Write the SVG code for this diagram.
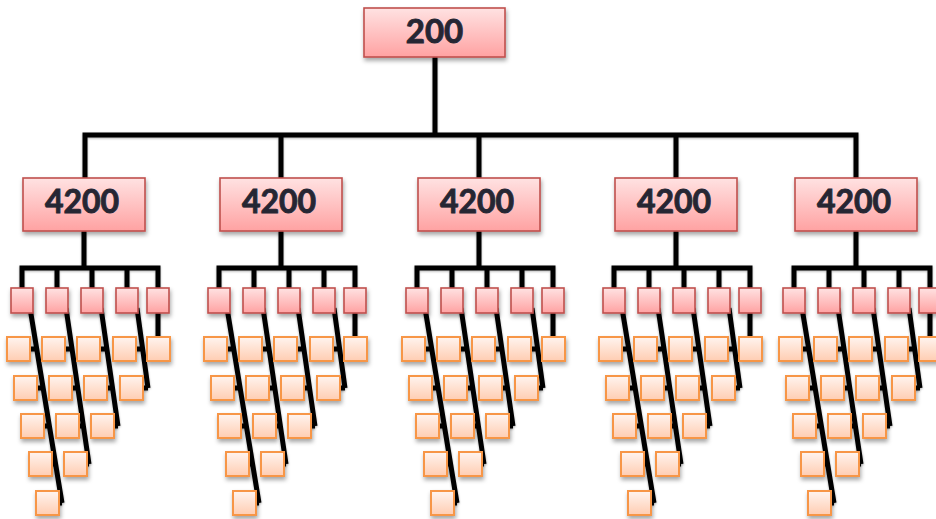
<svg xmlns="http://www.w3.org/2000/svg" width="936" height="519" viewBox="0 0 936 519">
<defs>
<linearGradient id="gRed" x1="0" y1="0" x2="0" y2="1">
<stop offset="0" stop-color="#ffe2e2"/>
<stop offset="1" stop-color="#ffa2a2"/>
</linearGradient>
<linearGradient id="gOr" x1="0" y1="0" x2="0" y2="1">
<stop offset="0" stop-color="#fff4ef"/>
<stop offset="1" stop-color="#ffcdb2"/>
</linearGradient>
<filter id="sh" x="-30%" y="-30%" width="160%" height="170%">
<feDropShadow dx="1" dy="3" stdDeviation="2" flood-color="#000" flood-opacity="0.35"/>
</filter>
<filter id="lsh" x="-10%" y="-10%" width="120%" height="120%">
<feDropShadow dx="0" dy="1" stdDeviation="1" flood-color="#000" flood-opacity="0.3"/>
</filter>
</defs>
<style>
.big{fill:url(#gRed);stroke:#c0504d;stroke-width:1.6;filter:url(#sh)}
.red{fill:url(#gRed);stroke:#c0504d;stroke-width:1.6;filter:url(#sh)}
.or{fill:url(#gOr);stroke:#f79646;stroke-width:2;filter:url(#sh)}
.lbl{font-family:Lato,"Open Sans","Liberation Sans",sans-serif;font-weight:bold;fill:#262633;stroke:#262633;stroke-width:0.9;text-anchor:middle}
.con{fill:none;stroke:#000;stroke-width:5;stroke-linejoin:miter;filter:url(#lsh)}
</style>
<rect width="936" height="519" fill="#fff"/>
<g id="connectors">
<path class="con" d="M435 57 V135 M85 178 V135 H856 V178 M281 135 V178 M479 135 V178 M676 135 V178"/>
<g transform="translate(84 0)"><path class="con" d="M0 231 V268 M-62 288 V268 H74 V288 M-27 268 V288 M8 268 V288 M43 268 V288 M-54 308 L-22 503 M-54 349 H-47 M-47 388 H-41 M-40 426 H-34.6 M-32 464 H-28 M-25 503 H-22 M-18 308 L5 464 M-19 349 H-12 M-12 388 H-6 M-5 426 H-0.6 M3 464 H5 M17 308 L34 426 M16 349 H23 M23 388 H28.5 M30 426 H34 M53 308 L64 388 M52 349 H58.6 M59 388 H64 M74 310 V340"/></g>
<g transform="translate(281 0)"><path class="con" d="M0 231 V268 M-62 288 V268 H74 V288 M-27 268 V288 M8 268 V288 M43 268 V288 M-54 308 L-22 503 M-54 349 H-47 M-47 388 H-41 M-40 426 H-34.6 M-32 464 H-28 M-25 503 H-22 M-18 308 L5 464 M-19 349 H-12 M-12 388 H-6 M-5 426 H-0.6 M3 464 H5 M17 308 L34 426 M16 349 H23 M23 388 H28.5 M30 426 H34 M53 308 L64 388 M52 349 H58.6 M59 388 H64 M74 310 V340"/></g>
<g transform="translate(479 0)"><path class="con" d="M0 231 V268 M-62 288 V268 H74 V288 M-27 268 V288 M8 268 V288 M43 268 V288 M-54 308 L-22 503 M-54 349 H-47 M-47 388 H-41 M-40 426 H-34.6 M-32 464 H-28 M-25 503 H-22 M-18 308 L5 464 M-19 349 H-12 M-12 388 H-6 M-5 426 H-0.6 M3 464 H5 M17 308 L34 426 M16 349 H23 M23 388 H28.5 M30 426 H34 M53 308 L64 388 M52 349 H58.6 M59 388 H64 M74 310 V340"/></g>
<g transform="translate(676 0)"><path class="con" d="M0 231 V268 M-62 288 V268 H74 V288 M-27 268 V288 M8 268 V288 M43 268 V288 M-54 308 L-22 503 M-54 349 H-47 M-47 388 H-41 M-40 426 H-34.6 M-32 464 H-28 M-25 503 H-22 M-18 308 L5 464 M-19 349 H-12 M-12 388 H-6 M-5 426 H-0.6 M3 464 H5 M17 308 L34 426 M16 349 H23 M23 388 H28.5 M30 426 H34 M53 308 L64 388 M52 349 H58.6 M59 388 H64 M74 310 V340"/></g>
<g transform="translate(856 0)"><path class="con" d="M0 231 V268 M-62 288 V268 H74 V288 M-27 268 V288 M8 268 V288 M43 268 V288 M-54 308 L-22 503 M-54 349 H-47 M-47 388 H-41 M-40 426 H-34.6 M-32 464 H-28 M-25 503 H-22 M-18 308 L5 464 M-19 349 H-12 M-12 388 H-6 M-5 426 H-0.6 M3 464 H5 M17 308 L34 426 M16 349 H23 M23 388 H28.5 M30 426 H34 M53 308 L64 388 M52 349 H58.6 M59 388 H64 M74 310 V340"/></g>
</g>
<g id="root"><rect class="big" x="364" y="8" width="141" height="49"/><text class="lbl" x="434.5" y="43" font-size="33">200</text></g>

<g id="sub1" transform="translate(84 0)">
<g id="s1"><rect class="big" x="-61" y="178" width="122" height="53"/><text class="lbl" x="-2" y="213" font-size="32">4200</text></g>
<g id="s1r1"><rect class="red" x="-73" y="288" width="22" height="25"/></g>
<g id="s1r2"><rect class="red" x="-38" y="288" width="22" height="25"/></g>
<g id="s1r3"><rect class="red" x="-3" y="288" width="22" height="25"/></g>
<g id="s1r4"><rect class="red" x="32" y="288" width="22" height="25"/></g>
<g id="s1r5"><rect class="red" x="63" y="288" width="22" height="25"/></g>
<g id="s1o11"><rect class="or" x="-77" y="337" width="23" height="24"/></g>
<g id="s1o12"><rect class="or" x="-70" y="376" width="23" height="24"/></g>
<g id="s1o13"><rect class="or" x="-63" y="414" width="23" height="24"/></g>
<g id="s1o14"><rect class="or" x="-55" y="452" width="23" height="24"/></g>
<g id="s1o15"><rect class="or" x="-48" y="491" width="23" height="24"/></g>
<g id="s1o21"><rect class="or" x="-42" y="337" width="23" height="24"/></g>
<g id="s1o22"><rect class="or" x="-35" y="376" width="23" height="24"/></g>
<g id="s1o23"><rect class="or" x="-28" y="414" width="23" height="24"/></g>
<g id="s1o24"><rect class="or" x="-20" y="452" width="23" height="24"/></g>
<g id="s1o31"><rect class="or" x="-7" y="337" width="23" height="24"/></g>
<g id="s1o32"><rect class="or" x="0" y="376" width="23" height="24"/></g>
<g id="s1o33"><rect class="or" x="7" y="414" width="23" height="24"/></g>
<g id="s1o41"><rect class="or" x="29" y="337" width="23" height="24"/></g>
<g id="s1o42"><rect class="or" x="36" y="376" width="23" height="24"/></g>
<g id="s1o51"><rect class="or" x="63" y="337" width="23" height="24"/></g>
</g>

<g id="sub2" transform="translate(281 0)">
<g id="s2"><rect class="big" x="-61" y="178" width="122" height="53"/><text class="lbl" x="-2" y="213" font-size="32">4200</text></g>
<g id="s2r1"><rect class="red" x="-73" y="288" width="22" height="25"/></g>
<g id="s2r2"><rect class="red" x="-38" y="288" width="22" height="25"/></g>
<g id="s2r3"><rect class="red" x="-3" y="288" width="22" height="25"/></g>
<g id="s2r4"><rect class="red" x="32" y="288" width="22" height="25"/></g>
<g id="s2r5"><rect class="red" x="63" y="288" width="22" height="25"/></g>
<g id="s2o11"><rect class="or" x="-77" y="337" width="23" height="24"/></g>
<g id="s2o12"><rect class="or" x="-70" y="376" width="23" height="24"/></g>
<g id="s2o13"><rect class="or" x="-63" y="414" width="23" height="24"/></g>
<g id="s2o14"><rect class="or" x="-55" y="452" width="23" height="24"/></g>
<g id="s2o15"><rect class="or" x="-48" y="491" width="23" height="24"/></g>
<g id="s2o21"><rect class="or" x="-42" y="337" width="23" height="24"/></g>
<g id="s2o22"><rect class="or" x="-35" y="376" width="23" height="24"/></g>
<g id="s2o23"><rect class="or" x="-28" y="414" width="23" height="24"/></g>
<g id="s2o24"><rect class="or" x="-20" y="452" width="23" height="24"/></g>
<g id="s2o31"><rect class="or" x="-7" y="337" width="23" height="24"/></g>
<g id="s2o32"><rect class="or" x="0" y="376" width="23" height="24"/></g>
<g id="s2o33"><rect class="or" x="7" y="414" width="23" height="24"/></g>
<g id="s2o41"><rect class="or" x="29" y="337" width="23" height="24"/></g>
<g id="s2o42"><rect class="or" x="36" y="376" width="23" height="24"/></g>
<g id="s2o51"><rect class="or" x="63" y="337" width="23" height="24"/></g>
</g>

<g id="sub3" transform="translate(479 0)">
<g id="s3"><rect class="big" x="-61" y="178" width="122" height="53"/><text class="lbl" x="-2" y="213" font-size="32">4200</text></g>
<g id="s3r1"><rect class="red" x="-73" y="288" width="22" height="25"/></g>
<g id="s3r2"><rect class="red" x="-38" y="288" width="22" height="25"/></g>
<g id="s3r3"><rect class="red" x="-3" y="288" width="22" height="25"/></g>
<g id="s3r4"><rect class="red" x="32" y="288" width="22" height="25"/></g>
<g id="s3r5"><rect class="red" x="63" y="288" width="22" height="25"/></g>
<g id="s3o11"><rect class="or" x="-77" y="337" width="23" height="24"/></g>
<g id="s3o12"><rect class="or" x="-70" y="376" width="23" height="24"/></g>
<g id="s3o13"><rect class="or" x="-63" y="414" width="23" height="24"/></g>
<g id="s3o14"><rect class="or" x="-55" y="452" width="23" height="24"/></g>
<g id="s3o15"><rect class="or" x="-48" y="491" width="23" height="24"/></g>
<g id="s3o21"><rect class="or" x="-42" y="337" width="23" height="24"/></g>
<g id="s3o22"><rect class="or" x="-35" y="376" width="23" height="24"/></g>
<g id="s3o23"><rect class="or" x="-28" y="414" width="23" height="24"/></g>
<g id="s3o24"><rect class="or" x="-20" y="452" width="23" height="24"/></g>
<g id="s3o31"><rect class="or" x="-7" y="337" width="23" height="24"/></g>
<g id="s3o32"><rect class="or" x="0" y="376" width="23" height="24"/></g>
<g id="s3o33"><rect class="or" x="7" y="414" width="23" height="24"/></g>
<g id="s3o41"><rect class="or" x="29" y="337" width="23" height="24"/></g>
<g id="s3o42"><rect class="or" x="36" y="376" width="23" height="24"/></g>
<g id="s3o51"><rect class="or" x="63" y="337" width="23" height="24"/></g>
</g>

<g id="sub4" transform="translate(676 0)">
<g id="s4"><rect class="big" x="-61" y="178" width="122" height="53"/><text class="lbl" x="-2" y="213" font-size="32">4200</text></g>
<g id="s4r1"><rect class="red" x="-73" y="288" width="22" height="25"/></g>
<g id="s4r2"><rect class="red" x="-38" y="288" width="22" height="25"/></g>
<g id="s4r3"><rect class="red" x="-3" y="288" width="22" height="25"/></g>
<g id="s4r4"><rect class="red" x="32" y="288" width="22" height="25"/></g>
<g id="s4r5"><rect class="red" x="63" y="288" width="22" height="25"/></g>
<g id="s4o11"><rect class="or" x="-77" y="337" width="23" height="24"/></g>
<g id="s4o12"><rect class="or" x="-70" y="376" width="23" height="24"/></g>
<g id="s4o13"><rect class="or" x="-63" y="414" width="23" height="24"/></g>
<g id="s4o14"><rect class="or" x="-55" y="452" width="23" height="24"/></g>
<g id="s4o15"><rect class="or" x="-48" y="491" width="23" height="24"/></g>
<g id="s4o21"><rect class="or" x="-42" y="337" width="23" height="24"/></g>
<g id="s4o22"><rect class="or" x="-35" y="376" width="23" height="24"/></g>
<g id="s4o23"><rect class="or" x="-28" y="414" width="23" height="24"/></g>
<g id="s4o24"><rect class="or" x="-20" y="452" width="23" height="24"/></g>
<g id="s4o31"><rect class="or" x="-7" y="337" width="23" height="24"/></g>
<g id="s4o32"><rect class="or" x="0" y="376" width="23" height="24"/></g>
<g id="s4o33"><rect class="or" x="7" y="414" width="23" height="24"/></g>
<g id="s4o41"><rect class="or" x="29" y="337" width="23" height="24"/></g>
<g id="s4o42"><rect class="or" x="36" y="376" width="23" height="24"/></g>
<g id="s4o51"><rect class="or" x="63" y="337" width="23" height="24"/></g>
</g>

<g id="sub5" transform="translate(856 0)">
<g id="s5"><rect class="big" x="-61" y="178" width="122" height="53"/><text class="lbl" x="-2" y="213" font-size="32">4200</text></g>
<g id="s5r1"><rect class="red" x="-73" y="288" width="22" height="25"/></g>
<g id="s5r2"><rect class="red" x="-38" y="288" width="22" height="25"/></g>
<g id="s5r3"><rect class="red" x="-3" y="288" width="22" height="25"/></g>
<g id="s5r4"><rect class="red" x="32" y="288" width="22" height="25"/></g>
<g id="s5r5"><rect class="red" x="63" y="288" width="22" height="25"/></g>
<g id="s5o11"><rect class="or" x="-77" y="337" width="23" height="24"/></g>
<g id="s5o12"><rect class="or" x="-70" y="376" width="23" height="24"/></g>
<g id="s5o13"><rect class="or" x="-63" y="414" width="23" height="24"/></g>
<g id="s5o14"><rect class="or" x="-55" y="452" width="23" height="24"/></g>
<g id="s5o15"><rect class="or" x="-48" y="491" width="23" height="24"/></g>
<g id="s5o21"><rect class="or" x="-42" y="337" width="23" height="24"/></g>
<g id="s5o22"><rect class="or" x="-35" y="376" width="23" height="24"/></g>
<g id="s5o23"><rect class="or" x="-28" y="414" width="23" height="24"/></g>
<g id="s5o24"><rect class="or" x="-20" y="452" width="23" height="24"/></g>
<g id="s5o31"><rect class="or" x="-7" y="337" width="23" height="24"/></g>
<g id="s5o32"><rect class="or" x="0" y="376" width="23" height="24"/></g>
<g id="s5o33"><rect class="or" x="7" y="414" width="23" height="24"/></g>
<g id="s5o41"><rect class="or" x="29" y="337" width="23" height="24"/></g>
<g id="s5o42"><rect class="or" x="36" y="376" width="23" height="24"/></g>
<g id="s5o51"><rect class="or" x="63" y="337" width="23" height="24"/></g>
</g>
</svg>
